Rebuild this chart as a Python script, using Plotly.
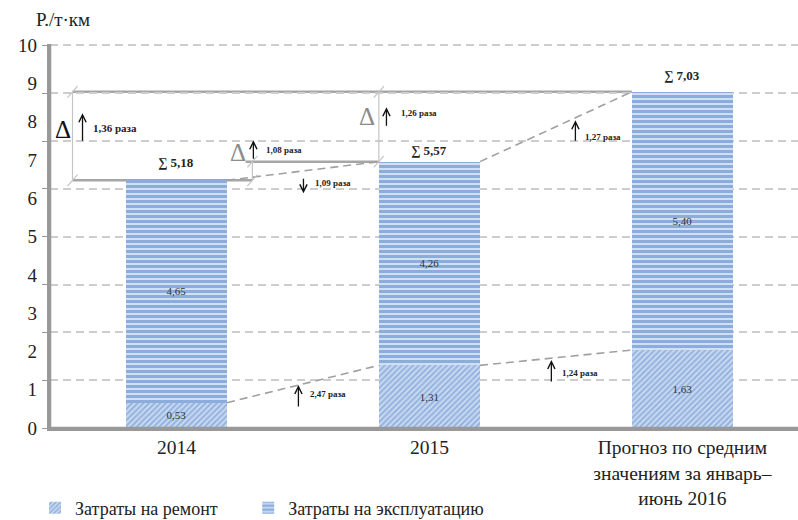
import plotly.graph_objects as go

# Cost per tonne-km, split into repair and operation components
categories = ["2014", "2015", "Прогноз по средним<br>значениям за январь–<br>июнь 2016"]
repair = [0.53, 1.31, 1.63]
operation = [4.65, 4.26, 5.40]
label_ticks = list(range(0, 11))

totals = [round(r + o, 2) for r, o in zip(repair, operation)]
xpos = list(range(len(categories)))


def fmt(v):
    return f"{v:.2f}".replace(".", ",")


FONT = "Liberation Serif"
GRAY = "#a6a6a6"
AXIS = "#999999"
LIGHT = "#c4c4c4"
BAR_W = 0.4
HALF = BAR_W / 2

fig = go.Figure()
fig.add_bar(
    x=xpos, y=repair, name="Затраты на ремонт", width=BAR_W,
    marker=dict(color="#5f8bcc", line_width=0,
                pattern=dict(shape="/", fgcolor="#5f8bcc", bgcolor="#c9daf1",
                             size=4, solidity=0.5)),
    text=[fmt(v) for v in repair], textposition="inside", insidetextanchor="middle",
    textangle=0, textfont=dict(family=FONT, size=11, color="#333333"),
    hoverinfo="skip", legend="legend",
)
fig.add_bar(
    x=xpos, y=operation, name="Затраты на эксплуатацию", width=BAR_W,
    marker=dict(color="#4a7cc4", line_width=0,
                pattern=dict(shape="-", fgcolor="#4a7cc4", bgcolor="#cfdff4",
                             size=5, solidity=0.6)),
    text=[fmt(v) for v in operation], textposition="inside", insidetextanchor="middle",
    textangle=0, textfont=dict(family=FONT, size=11, color="#333333"),
    hoverinfo="skip", legend="legend2",
)
# invisible trace carrying the 0..10 label scale
fig.add_scatter(x=[xpos[0]], y=[0], yaxis="y2", mode="markers",
                marker=dict(opacity=0), showlegend=False, hoverinfo="skip")

shapes = []
ann = []

# axis lines along the left and bottom edges of the plot area
shapes.append(dict(type="line", xref="paper", yref="paper", x0=0, x1=0, y0=0, y1=1,
                   line=dict(color=AXIS, width=2.5)))
shapes.append(dict(type="line", xref="paper", yref="paper", x0=0, x1=1, y0=0, y1=0,
                   line=dict(color=AXIS, width=2.5)))

# guide levels
left_dim = -0.411
mid_dim = 0.30
shapes.append(dict(type="line", layer="below", x0=left_dim, x1=xpos[2] - HALF,
                   y0=totals[2], y1=totals[2], line=dict(color=GRAY, width=2.5)))
shapes.append(dict(type="line", layer="below", x0=left_dim, x1=mid_dim,
                   y0=totals[0], y1=totals[0], line=dict(color=GRAY, width=2.5)))
shapes.append(dict(type="line", layer="below", x0=0.273, x1=xpos[1] - HALF,
                   y0=totals[1], y1=totals[1], line=dict(color=GRAY, width=2.5)))

# dashed connectors between neighbouring bars
for seq in (totals, repair):
    for i in range(len(seq) - 1):
        shapes.append(dict(type="line", x0=xpos[i] + HALF, x1=xpos[i + 1] - HALF,
                           y0=seq[i], y1=seq[i + 1],
                           line=dict(color="#a0a0a0", width=1.6, dash="8px,5px")))

# dimension lines with end slashes
dims = [(left_dim, totals[0], totals[2]),
        (mid_dim, totals[0], totals[1]),
        (xpos[1] - HALF, totals[1], totals[2])]
for xd, ya, yb in dims:
    shapes.append(dict(type="line", x0=xd, x1=xd, y0=ya, y1=yb,
                       line=dict(color=LIGHT, width=1.2)))
    for ye in (ya, yb):
        shapes.append(dict(type="line", x0=xd - 0.02, x1=xd + 0.02,
                           y0=ye - 0.12, y1=ye + 0.12,
                           line=dict(color=LIGHT, width=1.2)))

# sums above bars
sum_shift = [8, 2, 7]
for i in xpos:
    ann.append(dict(x=xpos[i], y=totals[i], text=f"<b>∑ {fmt(totals[i])}</b>",
                    showarrow=False, yanchor="bottom", yshift=sum_shift[i],
                    font=dict(family=FONT, size=13, color="#222222")))

# delta markers
ann.append(dict(x=-0.447, y=6.245, text="Δ", showarrow=False,
                font=dict(family=FONT, size=25, color="#111111")))
ann.append(dict(x=0.245, y=5.765, text="Δ", showarrow=False,
                font=dict(family=FONT, size=25, color="#8c8c8c")))
ann.append(dict(x=0.755, y=6.517, text="Δ", showarrow=False,
                font=dict(family=FONT, size=25, color="#8c8c8c")))


def ratio(a, b):
    return fmt(a / b) + " раза"


changes = [
    # x of arrow, tail y, head y, text x, text y, text, font size
    (-0.3715, 5.974, 6.58, -0.336, 6.266, ratio(totals[2], totals[0]), 11),
    (0.304, 5.598, 6.016, 0.344, 5.807, ratio(totals[1], totals[0]), 9),
    (0.502, 5.243, 4.909, 0.538, 5.117, ratio(operation[0], operation[1]), 9),
    (0.83, 6.287, 6.705, 0.881, 6.58, ratio(totals[2], totals[1]), 9),
    (1.577, 5.974, 6.433, 1.609, 6.078, ratio(operation[2], operation[1]), 9),
    (0.482, 0.418, 0.898, 0.518, 0.71, ratio(repair[1], repair[0]), 9),
    (1.482, 0.94, 1.42, 1.518, 1.149, ratio(repair[2], repair[1]), 9),
]
for xa, yt, yh, xt, ytx, txt, fs in changes:
    ann.append(dict(x=xa, y=yh, ax=xa, ay=yt, axref="x", ayref="y", text="",
                    showarrow=True, arrowhead=5, arrowsize=1.1, arrowwidth=1.3,
                    arrowcolor="#111111", standoff=0, startstandoff=0))
    ann.append(dict(x=xt, y=ytx, text=f"<b>{txt}</b>", showarrow=False,
                    xanchor="left", font=dict(family=FONT, size=fs, color="#222222")))

# unit caption
ann.append(dict(xref="paper", yref="paper", x=-0.022, y=1.065, text="Р./т·км",
                showarrow=False, xanchor="left", yanchor="middle",
                font=dict(family=FONT, size=19, color="#222222")))

legend_style = dict(orientation="h", xanchor="left", y=-0.16, yanchor="top",
                    font=dict(family=FONT, size=18, color="#222222"), itemwidth=30)

fig.update_layout(
    width=798, height=520,
    margin=dict(l=50, r=0, t=44, b=92, autoexpand=False),
    paper_bgcolor="white", plot_bgcolor="white",
    barmode="stack",
    font=dict(family=FONT, size=18, color="#222222"),
    shapes=shapes, annotations=ann,
    xaxis=dict(range=[-0.5, 2.457], tickvals=xpos, ticktext=categories,
               showline=True, linecolor=AXIS, linewidth=2.5, showgrid=False,
               zeroline=False, ticks="", automargin=False,
               tickfont=dict(family=FONT, size=19.5, color="#222222")),
    yaxis=dict(range=[0, 8.03], dtick=1, showgrid=True, gridcolor="#cdcdcd",
               gridwidth=1.5, griddash="8px,5px", showline=True, linecolor=AXIS,
               linewidth=2.5, ticks="outside", ticklen=5, tickcolor=AXIS,
               showticklabels=False, zeroline=False, automargin=False),
    yaxis2=dict(overlaying="y", side="left", anchor="x", range=[0, 10.03],
                tickvals=label_ticks, showgrid=False, showline=False,
                zeroline=False, ticks="", ticklabelstandoff=12,
                automargin=False, tickfont=dict(family=FONT, size=19, color="#222222")),
    legend=dict(x=-0.02, **legend_style),
    legend2=dict(x=0.265, **legend_style),
)

fig.write_html("out.html")
